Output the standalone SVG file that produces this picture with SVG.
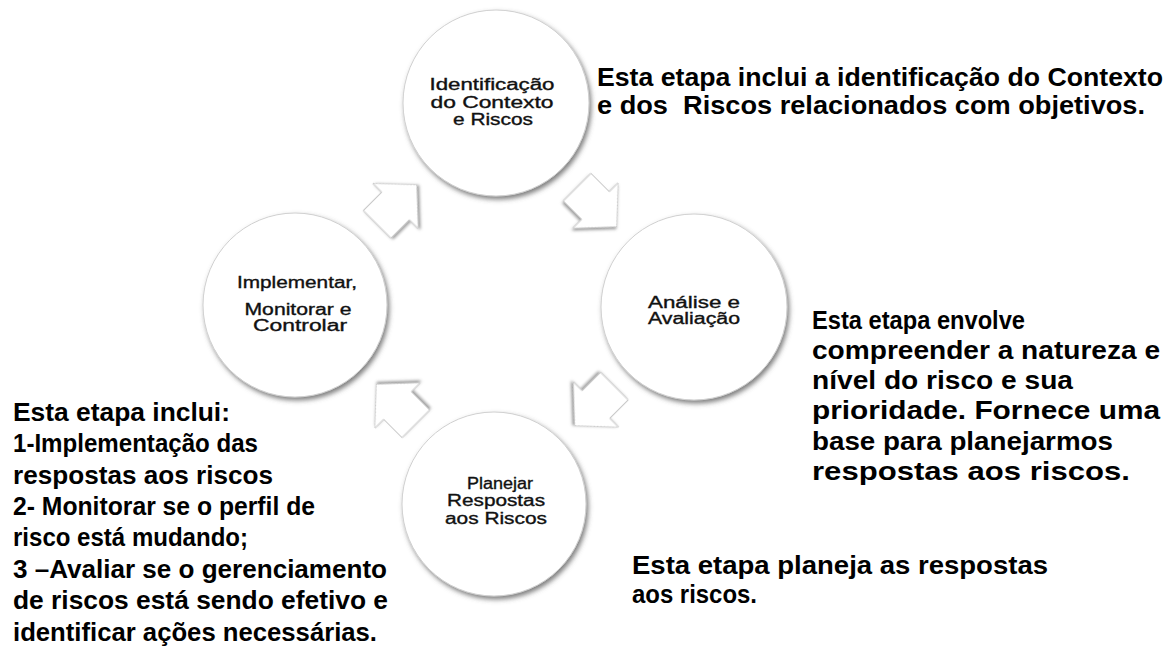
<svg xmlns="http://www.w3.org/2000/svg" xmlns:xlink="http://www.w3.org/1999/xlink" width="1170" height="652" viewBox="0 0 1170 652">
<defs>
<style>
.circ{fill:#fff;stroke:#d0d0d0;stroke-width:1;filter:url(#sh)}
.arr{fill:#fff;stroke:#c8c8c8;stroke-width:1;filter:url(#ash)}
.ct{font-family:"Liberation Sans",Arial,sans-serif;font-size:16px;fill:#111;stroke:#111;stroke-width:0.35;text-anchor:middle}
.bt{font-family:"Liberation Sans",Arial,sans-serif;font-size:25px;font-weight:bold;fill:#000}
</style>
<filter id="sh" x="-20%" y="-20%" width="140%" height="140%">
<feDropShadow dx="2" dy="3" stdDeviation="2.5" flood-color="#555" flood-opacity="0.75"/>
</filter>
<filter id="ash" x="-30%" y="-30%" width="160%" height="160%">
<feDropShadow dx="1" dy="2" stdDeviation="1.5" flood-color="#666" flood-opacity="0.65"/>
</filter>
<path id="blk" d="M-26,-19.5 L0,-19.5 L0,-32 L30,0 L0,32 L0,19.5 L-26,19.5 Z"/>
</defs>
<rect width="1170" height="652" fill="#fff"/>
<g id="connectors">
<use xlink:href="#blk" class="arr" transform="translate(595.5,205.5) rotate(45)"/>
<use xlink:href="#blk" class="arr" transform="translate(596,404.5) rotate(135)"/>
<use xlink:href="#blk" class="arr" transform="translate(397.5,405.5) rotate(225)"/>
<use xlink:href="#blk" class="arr" transform="translate(395.5,206) rotate(-45)"/>
</g>
<g id="n1">
<circle class="circ" cx="496" cy="103" r="93"/>
<text class="ct" x="492" y="90" textLength="125" lengthAdjust="spacingAndGlyphs">Identificação</text>
<text class="ct" x="492" y="108" textLength="123" lengthAdjust="spacingAndGlyphs">do Contexto</text>
<text class="ct" x="493" y="125" textLength="80" lengthAdjust="spacingAndGlyphs">e Riscos</text>
</g>
<g id="n2">
<circle class="circ" cx="694" cy="307" r="93"/>
<text class="ct" x="694" y="308" textLength="92" lengthAdjust="spacingAndGlyphs">Análise e</text>
<text class="ct" x="694" y="324" textLength="92" lengthAdjust="spacingAndGlyphs">Avaliação</text>
</g>
<g id="n3">
<circle class="circ" cx="494" cy="504" r="92"/>
<text class="ct" x="500" y="489" textLength="66" lengthAdjust="spacingAndGlyphs">Planejar</text>
<text class="ct" x="496" y="506" textLength="98" lengthAdjust="spacingAndGlyphs">Respostas</text>
<text class="ct" x="496" y="524" textLength="102" lengthAdjust="spacingAndGlyphs">aos Riscos</text>
</g>
<g id="n4">
<circle class="circ" cx="295" cy="305" r="92"/>
<text class="ct" x="297" y="288" textLength="120" lengthAdjust="spacingAndGlyphs">Implementar,</text>
<text class="ct" x="298" y="315" textLength="107" lengthAdjust="spacingAndGlyphs">Monitorar e</text>
<text class="ct" x="300" y="331" textLength="94" lengthAdjust="spacingAndGlyphs">Controlar</text>
</g>
<g id="t1">
<text class="bt" x="597" y="86" textLength="566" lengthAdjust="spacingAndGlyphs">Esta etapa inclui a identificação do Contexto</text>
<text class="bt" x="597" y="114" textLength="548" lengthAdjust="spacingAndGlyphs" xml:space="preserve">e dos  Riscos relacionados com objetivos.</text>
</g>
<g id="t2">
<text class="bt" x="812" y="329" textLength="213" lengthAdjust="spacingAndGlyphs">Esta etapa envolve</text>
<text class="bt" x="812" y="359" textLength="348" lengthAdjust="spacingAndGlyphs">compreender a natureza e</text>
<text class="bt" x="812" y="389" textLength="261" lengthAdjust="spacingAndGlyphs">nível do risco e sua</text>
<text class="bt" x="812" y="419" textLength="348" lengthAdjust="spacingAndGlyphs">prioridade. Fornece uma</text>
<text class="bt" x="812" y="450" textLength="301" lengthAdjust="spacingAndGlyphs">base para planejarmos</text>
<text class="bt" x="812" y="480" textLength="318" lengthAdjust="spacingAndGlyphs">respostas aos riscos.</text>
</g>
<g id="t3">
<text class="bt" x="13" y="421" textLength="217" lengthAdjust="spacingAndGlyphs">Esta etapa inclui:</text>
<text class="bt" x="13" y="452" textLength="245" lengthAdjust="spacingAndGlyphs">1-Implementação  das</text>
<text class="bt" x="13" y="484" textLength="260" lengthAdjust="spacingAndGlyphs">respostas aos riscos</text>
<text class="bt" x="13" y="515" textLength="302" lengthAdjust="spacingAndGlyphs">2- Monitorar se o perfil de</text>
<text class="bt" x="13" y="546" textLength="235" lengthAdjust="spacingAndGlyphs">risco está mudando;</text>
<text class="bt" x="13" y="578" textLength="374" lengthAdjust="spacingAndGlyphs">3 –Avaliar se o gerenciamento</text>
<text class="bt" x="13" y="609" textLength="375" lengthAdjust="spacingAndGlyphs">de riscos está sendo efetivo e</text>
<text class="bt" x="13" y="641" textLength="364" lengthAdjust="spacingAndGlyphs">identificar ações necessárias.</text>
</g>
<g id="t4">
<text class="bt" x="632" y="574" textLength="416" lengthAdjust="spacingAndGlyphs">Esta etapa planeja as respostas</text>
<text class="bt" x="632" y="603" textLength="125" lengthAdjust="spacingAndGlyphs">aos riscos.</text>
</g>
</svg>
